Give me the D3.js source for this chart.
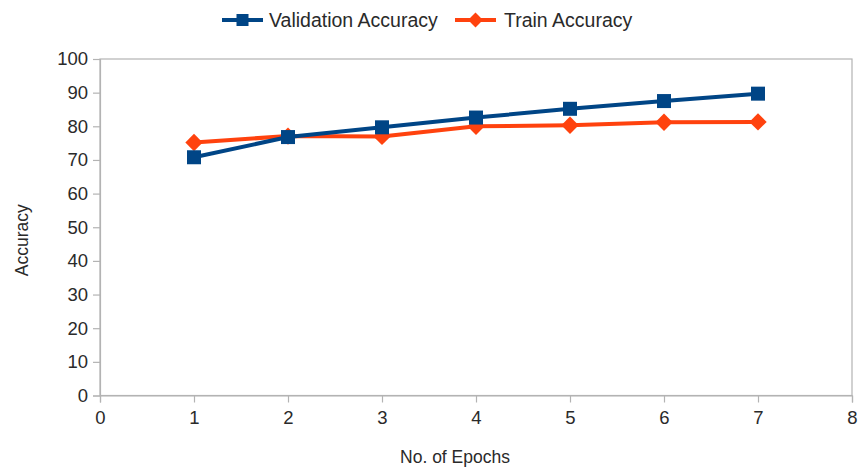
<!DOCTYPE html>
<html>
<head>
<meta charset="utf-8">
<script src="https://cdn.jsdelivr.net/npm/d3@7"></script>
<style>
  html, body { margin: 0; padding: 0; background: #fff; }
  svg { display: block; font-family: "Liberation Sans", Arial, sans-serif; }
</style>
</head>
<body>
<svg id="chart" width="863" height="470"></svg>
<script>
// Accuracy per training epoch
const epochs = [1, 2, 3, 4, 5, 6, 7];
const validationAccuracy = [70.8, 76.8, 79.7, 82.6, 85.2, 87.5, 89.7];
const trainAccuracy = [75.2, 77.1, 77.0, 80.0, 80.3, 81.2, 81.3];
const xTicks = [0, 1, 2, 3, 4, 5, 6, 7, 8];
const yTicks = [0, 10, 20, 30, 40, 50, 60, 70, 80, 90, 100];

const series = [
  { name: "Validation Accuracy", values: validationAccuracy, color: "#004586", marker: "square" },
  { name: "Train Accuracy", values: trainAccuracy, color: "#ff420e", marker: "diamond" }
];

const svg = d3.select("#chart");
const margin = { left: 100, right: 11, top: 59, bottom: 74.5 };
const W = 863, H = 470;

const x = d3.scaleLinear().domain([0, 8]).range([margin.left, W - margin.right]);
const y = d3.scaleLinear().domain([0, 100]).range([H - margin.bottom, margin.top]);

const axisColor = "#b3b3b3";
const textColor = "#2a2a2a";

// frame
svg.append("rect")
  .attr("x", x(0)).attr("y", y(100))
  .attr("width", x(8) - x(0)).attr("height", y(0) - y(100))
  .attr("fill", "none").attr("stroke", axisColor).attr("stroke-width", 1.2);

// axes
const yAxis = svg.append("g")
  .attr("transform", `translate(${x(0)},0)`)
  .call(d3.axisLeft(y).tickValues(yTicks).tickSize(7).tickPadding(5));
const xAxis = svg.append("g")
  .attr("transform", `translate(0,${y(0)})`)
  .call(d3.axisBottom(x).tickValues(xTicks).tickSize(7).tickPadding(8));

[xAxis, yAxis].forEach(g => {
  g.select(".domain").attr("stroke", axisColor).attr("stroke-width", 1.2);
  g.selectAll(".tick line").attr("stroke", axisColor).attr("stroke-width", 1.2);
  g.selectAll(".tick text")
    .attr("fill", textColor)
    .style("font-size", "18.5px")
    .style("font-family", '"Liberation Sans", Arial, sans-serif');
});

// axis titles
svg.append("text")
  .attr("x", 455).attr("y", 463)
  .attr("text-anchor", "middle").attr("fill", textColor)
  .style("font-size", "17.5px").text("No. of Epochs");
svg.append("text")
  .attr("transform", `translate(28,${(y(0) + y(100)) / 2 + 13}) rotate(-90)`)
  .attr("text-anchor", "middle").attr("fill", textColor)
  .style("font-size", "17.5px").text("Accuracy");

function drawMarker(g, type, cx, cy, color, size) {
  if (type === "square") {
    g.append("rect")
      .attr("x", cx - size / 2).attr("y", cy - size / 2)
      .attr("width", size).attr("height", size)
      .attr("fill", color);
  } else {
    const h = size * 0.62;
    g.append("path")
      .attr("d", `M${cx},${cy - h}L${cx + h},${cy}L${cx},${cy + h}L${cx - h},${cy}Z`)
      .attr("fill", color);
  }
}

const line = d3.line().x((d, i) => x(epochs[i])).y(d => y(d));

// train drawn first so validation sits on top
[series[1], series[0]].forEach(s => {
  const g = svg.append("g");
  g.append("path")
    .attr("d", line(s.values))
    .attr("fill", "none").attr("stroke", s.color)
    .attr("stroke-width", 4).attr("stroke-linejoin", "round");
  s.values.forEach((v, i) => drawMarker(g, s.marker, x(epochs[i]), y(v), s.color, 14));
});

// legend
const legendItems = [
  { s: series[0], lx: 222, tx: 269 },
  { s: series[1], lx: 455, tx: 504 }
];
legendItems.forEach(({ s, lx, tx }) => {
  const g = svg.append("g");
  const ly = 20;
  g.append("line")
    .attr("x1", lx).attr("x2", lx + 41).attr("y1", ly).attr("y2", ly)
    .attr("stroke", s.color).attr("stroke-width", 4);
  drawMarker(g, s.marker, lx + 20.5, ly, s.color, 12);
  g.append("text")
    .attr("x", tx).attr("y", ly + 7)
    .attr("fill", textColor).style("font-size", "19.5px")
    .text(s.name);
});
</script>
</body>
</html>
